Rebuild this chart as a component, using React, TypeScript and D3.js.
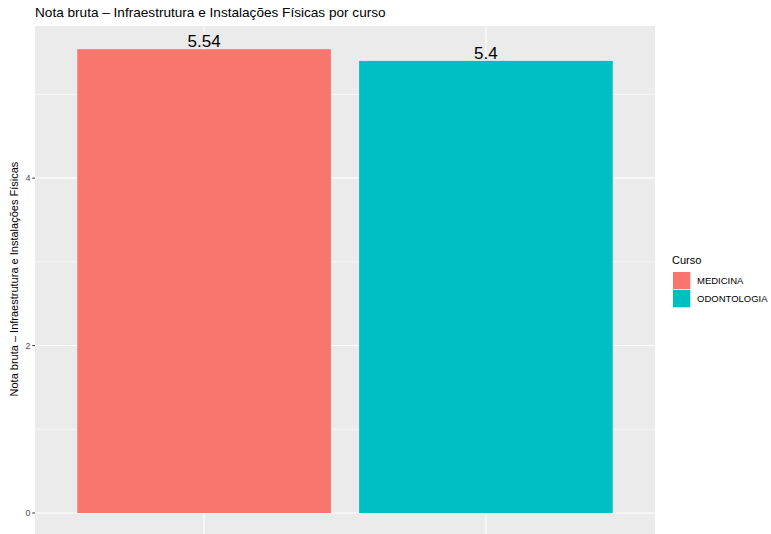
import React from "react";
import * as d3 from "d3";

const categories = ["MEDICINA", "ODONTOLOGIA"];
const values = [5.54, 5.4];
const valueLabels = ["5.54", "5.4"];
const colors = ["#F8766D", "#00BFC4"];
const yTicks = [0, 2, 4];
const yMinor = [1, 3, 5];

const W = 771, H = 534;
const panel = { left: 35, right: 655, top: 26, bottom: 536.2 };
const FONT = "'Liberation Sans', Arial, Helvetica, sans-serif";

export default function App() {
  const maxV = d3.max(values) as number;
  const pad = maxV * 0.05;
  const y = d3.scaleLinear().domain([-pad, maxV + pad]).range([panel.bottom, panel.top]);
  const xc = d3.scaleLinear().domain([0.4, categories.length + 0.6]).range([panel.left, panel.right]);
  const bw = (xc(1.9) - xc(1));
  const ph = panel.bottom - panel.top;
  return (
    <svg width={W} height={H} style={{ position: "absolute", left: 0, top: 0, background: "#fff" }} fontFamily={FONT}>
      <text x={35} y={17} fontSize={13.6} fill="#000">Nota bruta – Infraestrutura e Instalações Físicas por curso</text>
      <rect x={panel.left} y={panel.top} width={panel.right - panel.left} height={ph} fill="#EBEBEB" />
      {yMinor.map((t) => (
        <line key={"mi" + t} x1={panel.left} x2={panel.right} y1={y(t)} y2={y(t)} stroke="#fff" strokeWidth={0.55} />
      ))}
      {yTicks.map((t) => (
        <line key={"ma" + t} x1={panel.left} x2={panel.right} y1={y(t)} y2={y(t)} stroke="#fff" strokeWidth={1.1} />
      ))}
      {categories.map((c, i) => (
        <line key={"vx" + c} x1={xc(i + 1)} x2={xc(i + 1)} y1={panel.top} y2={panel.bottom} stroke="#fff" strokeWidth={1.1} />
      ))}
      {categories.map((c, i) => (
        <rect key={"b" + c} x={xc(i + 1) - bw / 2} y={y(values[i])} width={bw} height={y(0) - y(values[i])} fill={colors[i]} />
      ))}
      {categories.map((c, i) => (
        <text key={"l" + c} x={xc(i + 1)} y={y(values[i]) - 2} textAnchor="middle" fontSize={17} fill="#000">{valueLabels[i]}</text>
      ))}
      {yTicks.map((t) => (
        <g key={"t" + t}>
          <line x1={panel.left - 2.75} x2={panel.left} y1={y(t)} y2={y(t)} stroke="#333" strokeWidth={1} />
          <text x={panel.left - 4.5} y={y(t)} dy="0.35em" textAnchor="end" fontSize={9} fill="#4D4D4D">{t}</text>
        </g>
      ))}
      <text transform={`translate(18,${(panel.top + panel.bottom) / 2 - 2}) rotate(-90)`} textAnchor="middle" fontSize={11} fill="#000">
        Nota bruta – Infraestrutura e Instalações Físicas
      </text>
      <text x={672} y={264} fontSize={11} fill="#000">Curso</text>
      {categories.map((c, i) => (
        <g key={"lg" + c}>
          <rect x={673} y={272 + i * 18} width={17.3} height={17.3} fill={colors[i]} />
          <text x={697} y={281 + i * 18} dy="0.35em" fontSize={9.5} fill="#000">{c}</text>
        </g>
      ))}
    </svg>
  );
}
